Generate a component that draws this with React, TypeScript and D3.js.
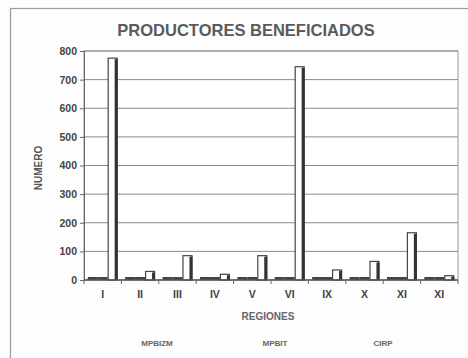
import { useEffect, useRef } from "react";
import * as d3 from "d3";

const REGIONS = ["I", "II", "III", "IV", "V", "VI", "IX", "X", "XI", "XI"];
const SERIES = ["MPBIZM", "MPBIT", "CIRP"];
const MPBIZM_VALUES = [0, 0, 0, 0, 0, 0, 0, 0, 0, 0];
const MPBIT_VALUES = [0, 0, 0, 0, 0, 0, 0, 0, 0, 0];
const CIRP_VALUES = [775, 30, 85, 20, 85, 745, 35, 65, 165, 15];
const Y_TICKS = [0, 100, 200, 300, 400, 500, 600, 700, 800];

const WIDTH = 468;
const HEIGHT = 358;
const FONT = "Liberation Sans, Arial, sans-serif";

export default function App() {
  const svgRef = useRef<SVGSVGElement | null>(null);

  useEffect(() => {
    document.body.style.margin = "0";
    const svgElement = svgRef.current;
    if (!svgElement) return;

    const margin = { top: 51, right: 10, bottom: 78, left: 84 };
    const plotW = WIDTH - margin.left - margin.right;
    const plotH = HEIGHT - margin.top - margin.bottom;
    const seriesValues = [MPBIZM_VALUES, MPBIT_VALUES, CIRP_VALUES];

    const x0 = d3
      .scaleBand<number>()
      .domain(REGIONS.map((_, i) => i))
      .range([0, plotW])
      .paddingInner(0.2)
      .paddingOuter(0.1);
    const x1 = d3.scaleBand<number>().domain(SERIES.map((_, i) => i)).range([0, x0.bandwidth()]);
    const y = d3.scaleLinear().domain([0, 800]).range([plotH, 0]);

    const svg = d3.select(svgElement);
    svg.selectAll("*").remove();

    svg.append("rect").attr("width", WIDTH).attr("height", HEIGHT).attr("fill", "#fdfdfd");
    // outer chart frame
    svg
      .append("rect")
      .attr("x", 10.5)
      .attr("y", 8.5)
      .attr("width", WIDTH + 10)
      .attr("height", HEIGHT + 10)
      .attr("fill", "none")
      .attr("stroke", "#9a9a9a")
      .attr("stroke-width", 1.2);

    svg
      .append("text")
      .attr("x", 246)
      .attr("y", 36)
      .attr("text-anchor", "middle")
      .attr("font-family", FONT)
      .attr("font-size", 16.5)
      .attr("font-weight", 700)
      .attr("fill", "#5a5a5a")
      .text("PRODUCTORES BENEFICIADOS");

    const chart = svg.append("g").attr("transform", `translate(${margin.left}, ${margin.top})`);

    chart
      .append("rect")
      .attr("width", plotW)
      .attr("height", plotH)
      .attr("fill", "#fff")
      .attr("stroke", "#999")
      .attr("stroke-width", 1);

    chart
      .selectAll("line.grid")
      .data(Y_TICKS.slice(1))
      .join("line")
      .attr("class", "grid")
      .attr("x1", 0)
      .attr("x2", plotW)
      .attr("y1", (d) => y(d))
      .attr("y2", (d) => y(d))
      .attr("stroke", "#8a8a8a")
      .attr("stroke-width", 1);

    const yAxis = chart
      .append("g")
      .call(d3.axisLeft(y).tickValues(Y_TICKS).tickSize(4).tickPadding(3));
    yAxis.select(".domain").attr("stroke", "#666");
    yAxis.selectAll("line").attr("stroke", "#666");
    yAxis
      .selectAll("text")
      .attr("font-family", FONT)
      .attr("font-size", 10.5)
      .attr("font-weight", 700)
      .attr("fill", "#444");

    const step = x0.step();
    const groups = chart
      .selectAll("g.region")
      .data(REGIONS.map((_, i) => i))
      .join("g")
      .attr("class", "region")
      .attr("transform", (i) => `translate(${x0(i) ?? 0}, 0)`);

    SERIES.forEach((_, s) => {
      const bw = x1.bandwidth();
      groups.each(function (i) {
        const g = d3.select(this);
        const v = seriesValues[s][i];
        const bx = x1(s) ?? 0;
        if (v <= 0) {
          g.append("rect")
            .attr("x", bx)
            .attr("y", plotH - 3)
            .attr("width", bw)
            .attr("height", 3)
            .attr("fill", "#444");
          return;
        }
        g.append("rect")
          .attr("x", bx + 0.5)
          .attr("y", y(v))
          .attr("width", bw - 1)
          .attr("height", plotH - y(v))
          .attr("fill", "#fff")
          .attr("stroke", "#444")
          .attr("stroke-width", 1.2);
        g.append("rect")
          .attr("x", bx + bw - 3)
          .attr("y", y(v) + 1)
          .attr("width", 3)
          .attr("height", plotH - y(v) - 1)
          .attr("fill", "#333");
      });
    });

    // baseline and category ticks
    chart
      .append("line")
      .attr("x1", 0)
      .attr("x2", plotW)
      .attr("y1", plotH)
      .attr("y2", plotH)
      .attr("stroke", "#555")
      .attr("stroke-width", 1.5);
    chart
      .selectAll("line.xtick")
      .data(REGIONS.map((_, i) => i).concat([REGIONS.length]))
      .join("line")
      .attr("class", "xtick")
      .attr("x1", (i) => (x0(0) ?? 0) - step * 0.1 + i * step)
      .attr("x2", (i) => (x0(0) ?? 0) - step * 0.1 + i * step)
      .attr("y1", plotH)
      .attr("y2", plotH + 4)
      .attr("stroke", "#666");

    chart
      .selectAll("text.region")
      .data(REGIONS)
      .join("text")
      .attr("class", "region")
      .attr("x", (_, i) => (x0(i) ?? 0) + x0.bandwidth() / 2)
      .attr("y", plotH + 18)
      .attr("text-anchor", "middle")
      .attr("font-family", FONT)
      .attr("font-size", 10.5)
      .attr("font-weight", 700)
      .attr("fill", "#444")
      .text((d) => d);

    svg
      .append("text")
      .attr("x", 268)
      .attr("y", 320)
      .attr("text-anchor", "middle")
      .attr("font-family", FONT)
      .attr("font-size", 10)
      .attr("font-weight", 700)
      .attr("fill", "#666")
      .text("REGIONES");

    svg
      .append("text")
      .attr("transform", "translate(42, 168) rotate(-90)")
      .attr("text-anchor", "middle")
      .attr("font-family", FONT)
      .attr("font-size", 10)
      .attr("font-weight", 700)
      .attr("fill", "#555")
      .text("NUMERO");

    const legendX = [157, 275, 383];
    svg
      .selectAll("text.legend")
      .data(SERIES)
      .join("text")
      .attr("class", "legend")
      .attr("x", (_, i) => legendX[i])
      .attr("y", 346)
      .attr("text-anchor", "middle")
      .attr("font-family", FONT)
      .attr("font-size", 8)
      .attr("font-weight", 700)
      .attr("fill", "#666")
      .text((d) => d);
  }, []);

  return <svg ref={svgRef} width={WIDTH} height={HEIGHT} style={{ display: "block" }} />;
}
